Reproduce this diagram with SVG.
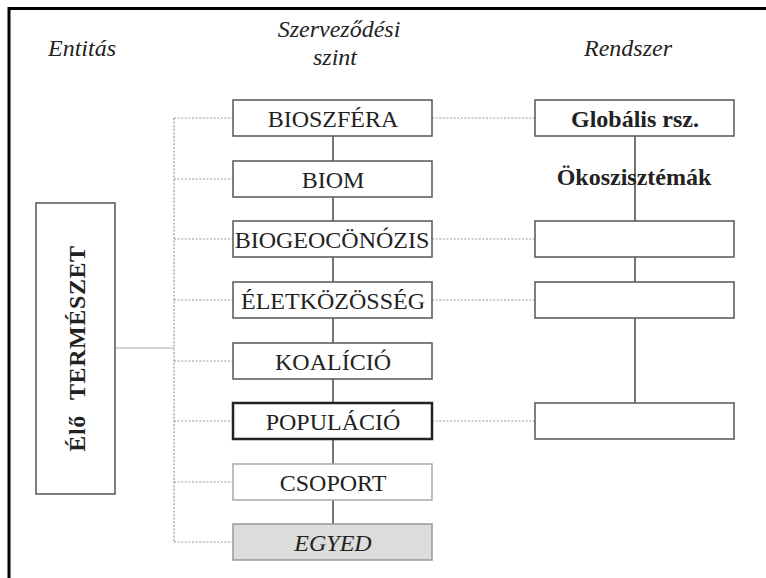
<svg xmlns="http://www.w3.org/2000/svg" width="766" height="578" viewBox="0 0 766 578">
<style>
.box{fill:#fff;stroke:#555;stroke-width:1.5}
.t{font-family:"Liberation Serif","Times New Roman",serif;font-size:24px;fill:#222;text-anchor:middle}
.h{font-family:"Liberation Serif","Times New Roman",serif;font-size:24px;font-style:italic;fill:#222;text-anchor:middle}
.b{font-weight:bold}
.dot{stroke:#999;stroke-width:1.2;stroke-dasharray:2 1.6;fill:none}
.sol{stroke:#666;stroke-width:1.8;fill:none}
</style>
<rect width="766" height="578" fill="#fff"/>
<path d="M9,578 V8.5 H766" fill="none" stroke="#000" stroke-width="3"/>
<g id="headers">
<text class="h" x="82" y="56">Entitás</text>
<text class="h" x="339" y="37" font-size="25">Szerveződési</text>
<text class="h" x="335" y="65">szint</text>
<text class="h" x="628" y="56">Rendszer</text>
</g>
<g id="connectors">
<path class="dot" d="M174,118 V542"/>
<path class="dot" d="M174,118 H233 M174,179 H233 M174,239 H233 M174,300 H233 M174,361 H233 M174,421 H233 M174,482 H233 M174,542 H233"/>
<path d="M115,348 H174" stroke="#aaa" stroke-width="1.2" fill="none"/>
<path class="dot" d="M432,118 H535 M432,239 H535 M432,300 H535 M432,421 H535"/>
<path class="sol" d="M333,136 V161 M333,197 V221 M333,257 V282 M333,318 V343 M333,379 V403 M333,439 V464 M333,500 V524"/>
<path class="sol" d="M635,136 V221 M635,257 V282 M635,318 V403"/>
</g>
<g id="elo-termeszet">
<rect class="box" x="36" y="203" width="79" height="291"/>
<text class="t b" transform="translate(85,348.5) rotate(-90)" font-size="22" letter-spacing="0.6" word-spacing="9">Élő TERMÉSZET</text>
</g>
<g id="bioszfera"><rect class="box" x="233" y="100" width="199" height="36"/><text class="t" x="333" y="127">BIOSZFÉRA</text></g>
<g id="biom"><rect class="box" x="233" y="161" width="199" height="36"/><text class="t" x="333" y="188">BIOM</text></g>
<g id="biogeocenozis"><rect class="box" x="233" y="221" width="199" height="36"/><text class="t" x="332" y="248">BIOGEOCÖNÓZIS</text></g>
<g id="eletkozosseg"><rect class="box" x="233" y="282" width="199" height="36"/><text class="t" x="333" y="309">ÉLETKÖZÖSSÉG</text></g>
<g id="koalicio"><rect class="box" x="233" y="343" width="199" height="36"/><text class="t" x="333" y="370">KOALÍCIÓ</text></g>
<g id="populacio"><rect class="box" x="233" y="403" width="199" height="36" style="stroke:#222;stroke-width:2.5"/><text class="t" x="333" y="430">POPULÁCIÓ</text></g>
<g id="csoport"><rect class="box" x="233" y="464" width="199" height="36" style="stroke:#aaa"/><text class="t" x="333" y="491">CSOPORT</text></g>
<g id="egyed"><rect class="box" x="233" y="524" width="199" height="36" style="fill:#dcdcda;stroke:#999"/><text class="t" x="333" y="551" font-style="italic">EGYED</text></g>
<g id="globalis"><rect class="box" x="535" y="100" width="199" height="36"/><text class="t b" x="635" y="127" font-size="23">Globális rsz.</text></g>
<g id="okoszisztemak"><text class="t b" x="634" y="185">Ökoszisztémák</text></g>
<g id="rendszer-1"><rect class="box" x="535" y="221" width="199" height="36"/></g>
<g id="rendszer-2"><rect class="box" x="535" y="282" width="199" height="36"/></g>
<g id="rendszer-3"><rect class="box" x="535" y="403" width="199" height="36"/></g>
</svg>
